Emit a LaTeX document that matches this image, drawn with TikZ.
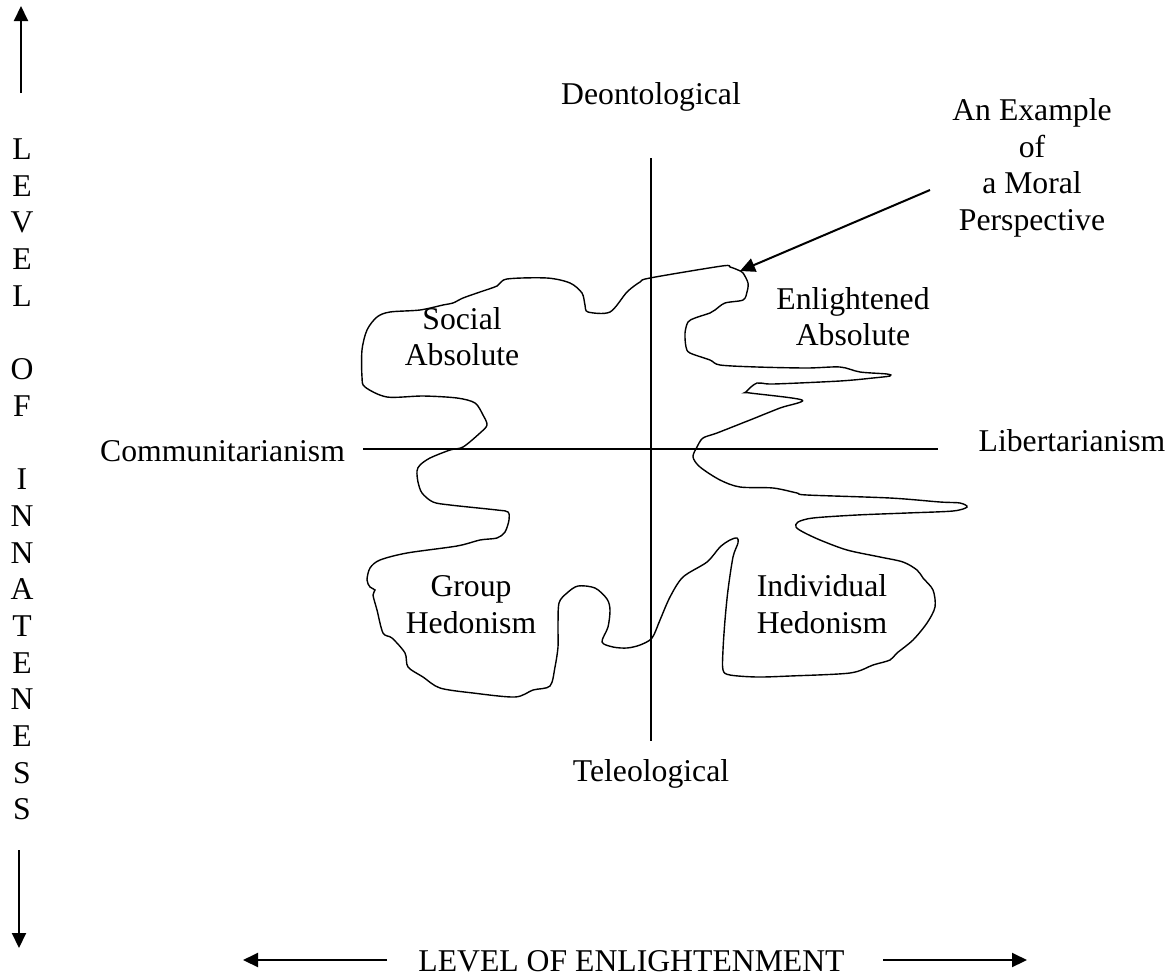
\documentclass[tikz,border=0pt]{standalone}
\usepackage{fontspec}
\setmainfont{Liberation Serif}
\usetikzlibrary{arrows.meta}
\tikzset{
  lbl/.style={font=\fontsize{31.7}{36.6}\selectfont, inner sep=0pt, align=center},
  bigarrow/.style={line width=2pt, -{Triangle[length=15pt,width=14pt]}},
  thinline/.style={line width=1.4pt}
}
\begin{document}
\begin{tikzpicture}[x=1pt,y=-1pt]
  \useasboundingbox (0,0) rectangle (1174,977);
  % axes
  \coordinate (vtop) at (651,158);
  \coordinate (vbot) at (651,741);
  \coordinate (hleft) at (363,449);
  \coordinate (hright) at (938,449);
  \draw[thinline] (vtop) -- (vbot);
  \draw[thinline] (hleft) -- (hright);
  \node[lbl] (deon) at (651,97) {Deontological};
  \node[lbl] (teleo) at (651,774) {Teleological};
  \node[lbl] (comm) at (222.5,451) {Communitarianism};
  \node[lbl] (lib) at (1072,441) {Libertarianism};
  % quadrant labels
  \node[lbl] (socabs) at (462,336.5) {Social\\Absolute};
  \node[lbl] (enlabs) at (853,316.5) {Enlightened\\Absolute};
  \node[lbl] (grphed) at (471,604.5) {Group\\Hedonism};
  \node[lbl] (indhed) at (822,604) {Individual\\Hedonism};
  % the moral perspective
  \draw[thinline] plot[smooth cycle, tension=0.5] coordinates {
    (722,266) (650,278) (640,282) (627,292) (610,312) (588,312) (585,305)
    (582,293) (570,283) (547,278) (507,279) (497,286) (480,292) (463,298)
    (453,303) (443,305) (420,310) (390,312) (377,317) (367,330) (362,350)
    (362,377) (365,387) (387,397) (423,396) (457,398) (475,403) (483,415)
    (487,425) (480,433) (463,447) (450,450) (430,458) (420,465) (417,471)
    (418,482) (422,493) (433,502) (450,505) (497,510) (508,512) (509,520)
    (505,532) (497,538) (480,540) (457,546) (407,553) (380,560) (370,568)
    (367,580) (370,587) (375,590) (373,595) (377,610) (383,633) (392,638)
    (405,653) (408,667) (423,677) (440,688) (473,693) (515,697) (533,690)
    (550,686) (555,667) (558,647) (558,627) (559,603) (567,593) (578,586)
    (595,588) (607,599) (610,610) (608,627) (602,642) (613,647) (627,648)
    (640,645) (652,638) (660,620) (670,597) (683,577) (707,562) (720,547)
    (730,540) (737,538) (738,543) (733,557) (728,590) (725,620) (723,650)
    (723,670) (730,675) (757,677) (790,676) (850,673) (873,665) (890,660)
    (897,653) (913,640) (927,623) (935,607) (933,590) (923,578) (917,570)
    (903,562) (880,557) (847,550) (820,540) (803,532) (796,527) (798,522)
    (813,518) (857,515) (907,513) (953,511) (967,507) (960,503) (940,502)
    (890,498) (807,495) (797,493) (773,488) (740,487) (720,480) (700,467)
    (693,457) (697,447) (703,438) (717,433) (750,420) (780,408) (802,400)
    (750,393) (746,392) (757,383) (773,384) (840,381) (873,378) (890,376)
    (887,374) (860,372) (840,367) (807,368) (757,367) (720,365) (710,360)
    (690,353) (686,347) (685,333) (688,322) (695,318) (710,313) (715,310)
    (725,303) (743,300) (747,292) (748,283) (743,273) (738,270) (730,267)};
  \node[lbl] (example) at (1032,168) {An Example\\of\\a Moral\\Perspective};
  \coordinate (extail) at (930,190);
  \coordinate (extip) at (740,271);
  \draw[bigarrow] (extail) -- (extip);
  % level of innateness
  \foreach \ch [count=\i] in {L,E,V,E,L,{},O,F,{},I,N,N,A,T,E,N,E,S,S}
    \node[lbl] (innate\i) at (22,{149+36.7*(\i-1)}) {\ch};
  \coordinate (upfrom) at (21,93);
  \coordinate (upto) at (21,6);
  \coordinate (downfrom) at (19,850);
  \coordinate (downto) at (19,948);
  \draw[bigarrow] (upfrom) -- (upto);
  \draw[bigarrow] (downfrom) -- (downto);
  % level of enlightenment
  \node[lbl] (enlight) at (631.5,961) {LEVEL OF ENLIGHTENMENT};
  \coordinate (leftfrom) at (387,960);
  \coordinate (leftto) at (243,960);
  \coordinate (rightfrom) at (883,960);
  \coordinate (rightto) at (1027,960);
  \draw[bigarrow] (leftfrom) -- (leftto);
  \draw[bigarrow] (rightfrom) -- (rightto);
\end{tikzpicture}
\end{document}
